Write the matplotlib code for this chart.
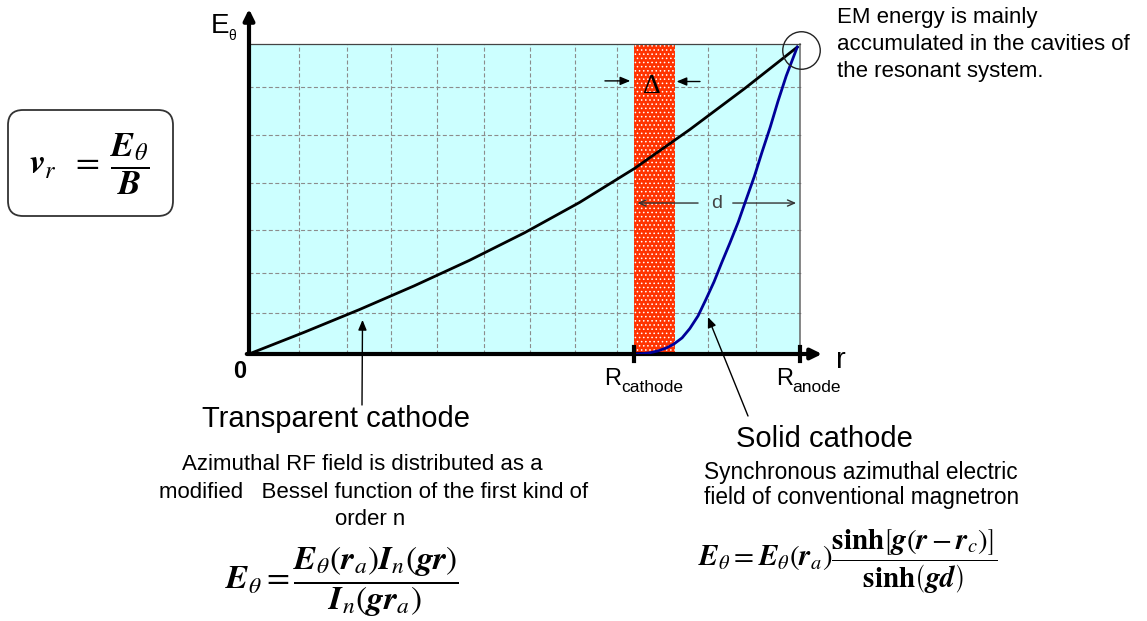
import matplotlib
matplotlib.use("Agg")
import matplotlib.pyplot as plt
from matplotlib.patches import FancyBboxPatch, Rectangle

plt.rcParams["font.family"] = ["Liberation Sans", "DejaVu Sans"]
plt.rcParams["mathtext.fontset"] = "stix"
plt.rcParams["hatch.linewidth"] = 0.6

# ---- data: radius normalised to R_anode, field normalised to E_theta(r_a) ----
r_transparent = [0.0, 0.1, 0.2, 0.3, 0.4, 0.5, 0.6, 0.7, 0.8, 0.9, 0.995]
e_transparent = [0.0, 0.070, 0.143, 0.220, 0.302, 0.391, 0.489, 0.599, 0.724, 0.857, 0.99]

r_solid = [0.699, 0.713, 0.728, 0.742, 0.757, 0.771, 0.786, 0.800, 0.815, 0.829, 0.844,
           0.858, 0.873, 0.888, 0.902, 0.917, 0.931, 0.946, 0.960, 0.975, 0.995]
e_solid = [0.0, 0.001, 0.004, 0.010, 0.019, 0.032, 0.052, 0.082, 0.123, 0.175, 0.233,
           0.295, 0.359, 0.426, 0.497, 0.572, 0.651, 0.732, 0.815, 0.897, 0.99]

r_cathode = 0.699
r_anode = 1.0
delta = 0.074

grid_r = [0.091, 0.177, 0.258, 0.341, 0.426, 0.510, 0.592, 0.668, 0.751, 0.833, 0.920]
grid_e = [0.131, 0.260, 0.400, 0.551, 0.706, 0.862]

W, H = 1147, 621
fig = plt.figure(figsize=(W / 100, H / 100), dpi=100)

# main field plot
ax = fig.add_axes([249 / W, 1 - 354 / H, 551 / W, 310 / H])
ax.set_xlim(0, r_anode)
ax.set_ylim(0, 1)
ax.set_facecolor("#CCFFFF")
ax.set_xticks([])
ax.set_yticks([])
for side in ("left", "bottom"):
    ax.spines[side].set_visible(False)
ax.spines["top"].set_color("#444444")
ax.spines["top"].set_linewidth(0.9)
ax.spines["right"].set_color("#666666")
ax.spines["right"].set_linewidth(1.1)

dash = (0, (3.6, 2.2))
for g in grid_r:
    ax.plot([g, g], [0, 1], color="#8C8C8C", lw=0.8, ls=dash, zorder=1)
for g in grid_e:
    ax.plot([0, 1.005], [g, g], color="#8C8C8C", lw=0.8, ls=dash, zorder=1, clip_on=False)

# cathode layer of thickness delta
ax.add_patch(Rectangle((r_cathode, 0), delta, 1, facecolor="#FF3300",
                       edgecolor="white", hatch="....", lw=0, zorder=2))

ax.plot(r_transparent, e_transparent, color="black", lw=2.0, zorder=4)
ax.plot(r_solid, e_solid, color="#000099", lw=2.0, zorder=4)

# axes with arrow heads
head = "-|>,head_length=0.65,head_width=0.32"
ax.annotate("", xy=(0, 1.113), xytext=(0, 0), annotation_clip=False,
            arrowprops=dict(arrowstyle=head, lw=3, color="black",
                            shrinkA=0, shrinkB=0, mutation_scale=10))
ax.annotate("", xy=(1.04, 0), xytext=(-0.004, 0), annotation_clip=False,
            arrowprops=dict(arrowstyle=head, lw=3, color="black",
                            shrinkA=0, shrinkB=0, mutation_scale=10))
for rt in (r_cathode, r_anode):
    ax.plot([rt, rt], [-0.024, 0.024], color="black", lw=3, clip_on=False, zorder=6)

# energy accumulation marker at the anode
ax.plot([1.002], [0.981], marker="o", ms=27, mfc="none", mec="#222222",
        mew=1.0, clip_on=False, zorder=6)

# delta and d dimension arrows
small = "-|>,head_length=0.6,head_width=0.25"
ax.annotate("", xy=(r_cathode - 0.007, 0.881), xytext=(0.646, 0.881),
            arrowprops=dict(arrowstyle=small, color="black", lw=1, shrinkA=0, shrinkB=0))
ax.annotate("", xy=(r_cathode + delta + 0.003, 0.879), xytext=(0.8185, 0.879),
            arrowprops=dict(arrowstyle=small, color="black", lw=1, shrinkA=0, shrinkB=0))
ax.text(0.732, 0.862, "\u0394", fontsize=20, family="Liberation Serif",
        ha="center", va="center", zorder=6)

thin = "->,head_length=0.5,head_width=0.22"
ax.annotate("", xy=(r_cathode + 0.006, 0.487), xytext=(0.815, 0.487),
            arrowprops=dict(arrowstyle=thin, color="#333333", lw=1, shrinkA=0, shrinkB=0))
ax.annotate("", xy=(r_anode - 0.007, 0.487), xytext=(0.878, 0.487),
            arrowprops=dict(arrowstyle=thin, color="#333333", lw=1, shrinkA=0, shrinkB=0))
ax.text(0.848, 0.485, "d", fontsize=14, color="#444444", ha="center", va="center")

# overlay in pixel units for labels and notes
ov = fig.add_axes([0, 0, 1, 1])
ov.set_xlim(0, W)
ov.set_ylim(H, 0)
ov.axis("off")

ov.text(211, 33, "E", fontsize=20, ha="left", va="baseline")
ov.text(228, 40, "\u03b8", fontsize=10, ha="left", va="baseline")
ov.text(836, 368, "r", fontsize=21, ha="left", va="baseline")
ov.text(240, 378, "0", fontsize=17, fontweight="bold", ha="center", va="baseline")
ov.text(604, 385, "R", fontsize=17, ha="left", va="baseline")
ov.text(621, 392, "cathode", fontsize=12.5, ha="left", va="baseline")
ov.text(776, 385, "R", fontsize=17, ha="left", va="baseline")
ov.text(792, 392, "anode", fontsize=12.5, ha="left", va="baseline")

# pointers to the two field curves
ptr = "-|>,head_length=0.6,head_width=0.25"
ax.annotate("", xy=(0.206, 0.110), xycoords="data", xytext=(362, 405),
            textcoords=ov.transData, annotation_clip=False,
            arrowprops=dict(arrowstyle=ptr, color="black", lw=1, shrinkA=0, shrinkB=0))
ax.annotate("", xy=(0.833, 0.119), xycoords="data", xytext=(748, 416),
            textcoords=ov.transData, annotation_clip=False,
            arrowprops=dict(arrowstyle=ptr, color="black", lw=1, shrinkA=0, shrinkB=0))

ov.text(336, 427, "Transparent cathode", fontsize=21, ha="center", va="baseline")
ov.text(824, 447, "Solid cathode", fontsize=21, ha="center", va="baseline")

ov.text(362, 470, "Azimuthal RF field is distributed as a", fontsize=16, ha="center", va="baseline")
ov.text(374, 498, "modified   Bessel function of the first kind of", fontsize=16, ha="center", va="baseline")
ov.text(370, 525, "order n", fontsize=16, ha="center", va="baseline")

ov.text(704, 479, "Synchronous azimuthal electric", fontsize=16.3, ha="left", va="baseline")
ov.text(704, 504, "field of conventional magnetron", fontsize=16.3, ha="left", va="baseline")

for i, line in enumerate(["EM energy is mainly", "accumulated in the cavities of",
                          "the resonant system."]):
    ov.text(837, 23 + 27 * i, line, fontsize=16, ha="left", va="baseline")

# drift velocity box
ov.add_patch(FancyBboxPatch((8, 110), 165, 106, boxstyle="round,pad=0,rounding_size=15",
                            facecolor="white", edgecolor="#333333", lw=1.3))
ov.text(89, 164, r"$\mathbfit{v}_{r}\;\;=\;\dfrac{\mathbfit{E}_{\theta}}{\mathbfit{B}}$",
        fontsize=25, ha="center", va="center")

ov.text(342, 582,
        r"$\mathbfit{E}_{\theta}=\dfrac{\mathbfit{E}_{\theta}\left(\mathbfit{r}_{a}\right)"
        r"\mathbfit{I}_{n}\left(\mathbfit{gr}\right)}{\mathbfit{I}_{n}\left(\mathbfit{gr}_{a}\right)}$",
        fontsize=24, ha="center", va="center")
ov.text(848, 562,
        r"$\mathbfit{E}_{\theta}=\mathbfit{E}_{\theta}\left(\mathbfit{r}_{a}\right)"
        r"\dfrac{\mathbf{sinh}\left[\mathbfit{g}\left(\mathbfit{r}-\mathbfit{r}_{c}\right)\right]}"
        r"{\mathbf{sinh}\left(\mathbfit{gd}\right)}$",
        fontsize=21, ha="center", va="center")

fig.savefig("out.png", dpi=100)
